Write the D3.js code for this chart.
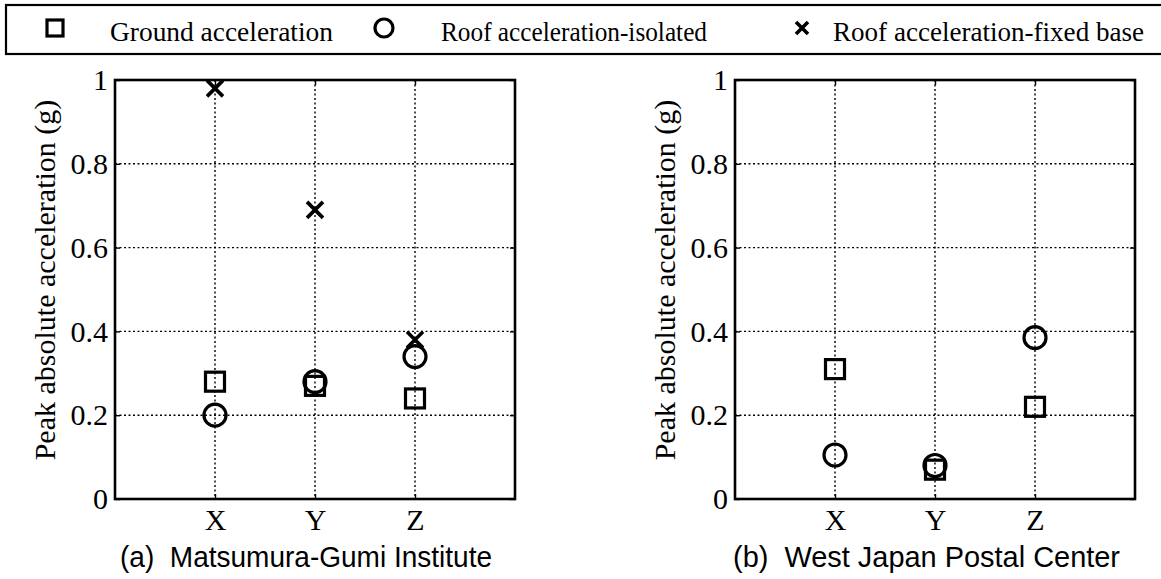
<!DOCTYPE html>
<html>
<head>
<meta charset="utf-8">
<script src="https://cdn.jsdelivr.net/npm/d3@7"></script>
<style>
  html, body { margin: 0; padding: 0; background: #fff; }
  svg { display: block; }
</style>
</head>
<body>
<svg id="chart" width="1161" height="579"></svg>
<script>
// Peak absolute accelerations (g) per direction
const categories = ["X", "Y", "Z"];
const yTicks = [0, 0.2, 0.4, 0.6, 0.8, 1];
const yTickLabels = ["0", "0.2", "0.4", "0.6", "0.8", "1"];

const matsumuraGround = [0.28, 0.27, 0.24];
const matsumuraIsolated = [0.20, 0.28, 0.34];
const matsumuraFixed = [0.98, 0.69, 0.38];

const postalGround = [0.31, 0.07, 0.22];
const postalIsolated = [0.105, 0.08, 0.385];

const legendLabels = ["Ground acceleration", "Roof acceleration-isolated", "Roof acceleration-fixed base"];
const panelTitles = ["(a)\u00a0\u00a0Matsumura-Gumi Institute", "(b)\u00a0\u00a0West Japan Postal Center"];
const yAxisTitle = "Peak absolute acceleration (g)";

const svg = d3.select("#chart");
const serif = "Liberation Serif, Times New Roman, serif";
const sans = "Liberation Sans, Arial, sans-serif";

// marker painters
function square(g, cx, cy, s) {
  g.append("rect").attr("x", cx - s / 2).attr("y", cy - s / 2)
    .attr("width", s).attr("height", s)
    .attr("fill", "none").attr("stroke", "#000").attr("stroke-width", 3.2);
}
function circle(g, cx, cy, r) {
  g.append("circle").attr("cx", cx).attr("cy", cy).attr("r", r)
    .attr("fill", "none").attr("stroke", "#000").attr("stroke-width", 3.2);
}
function cross(g, cx, cy, a) {
  g.append("path")
    .attr("d", `M${cx - a},${cy - a}L${cx + a},${cy + a}M${cx - a},${cy + a}L${cx + a},${cy - a}`)
    .attr("stroke", "#000").attr("stroke-width", 3.6).attr("fill", "none");
}

// legend
const legend = svg.append("g");
legend.append("rect").attr("x", 6).attr("y", 5).attr("width", 1170).attr("height", 49)
  .attr("fill", "none").attr("stroke", "#000").attr("stroke-width", 2.2);
const legendItems = [
  { mark: (g, x, y) => square(g, x, y, 16), mx: 55, tx: 110, w: 223 },
  { mark: (g, x, y) => circle(g, x, y, 9), mx: 384, tx: 441, w: 266 },
  { mark: (g, x, y) => cross(g, x, y, 6), mx: 802, tx: 833, w: 311 }
];
legendItems.forEach((it, i) => {
  it.mark(legend, it.mx, 28);
  legend.append("text").attr("x", it.tx).attr("y", 41)
    .style("font-family", serif).style("font-size", "27px")
    .attr("textLength", it.w).attr("lengthAdjust", "spacingAndGlyphs")
    .text(legendLabels[i]);
});

function panel(left, series, title, capX, capW) {
  const top = 80, bottom = 499, width = 400;
  const x = d3.scaleLinear().domain([0, 4]).range([left, left + width]);
  const y = d3.scaleLinear().domain([0, 1]).range([bottom, top]);
  const g = svg.append("g");

  // dotted grid
  const gx = [1, 2, 3];
  g.selectAll(".vg").data(gx).join("line")
    .attr("x1", d => x(d)).attr("x2", d => x(d)).attr("y1", top).attr("y2", bottom)
    .attr("stroke", "#000").attr("stroke-width", 1.4).attr("stroke-dasharray", "2,2.5");
  g.selectAll(".hg").data(yTicks.slice(1, -1)).join("line")
    .attr("x1", left).attr("x2", left + width).attr("y1", d => y(d)).attr("y2", d => y(d))
    .attr("stroke", "#000").attr("stroke-width", 1.4).attr("stroke-dasharray", "2,2.5");

  // axes
  const yAxis = d3.axisLeft(y).tickValues(yTicks).tickFormat((d, i) => yTickLabels[i]).tickSizeInner(-5).tickSizeOuter(0).tickPadding(7);
  const ya = g.append("g").attr("transform", `translate(${left},0)`).call(yAxis);
  const yaR = g.append("g").attr("transform", `translate(${left + width},0)`)
    .call(d3.axisRight(y).tickValues(yTicks).tickFormat("").tickSizeInner(-5).tickSizeOuter(0));
  const xAxis = d3.axisBottom(x).tickValues(gx).tickFormat((d, i) => categories[i]).tickSizeInner(-5).tickSizeOuter(0).tickPadding(10);
  const xa = g.append("g").attr("transform", `translate(0,${bottom})`).call(xAxis);
  const xaT = g.append("g").attr("transform", `translate(0,${top})`)
    .call(d3.axisTop(x).tickValues(gx).tickFormat("").tickSizeInner(-5).tickSizeOuter(0));
  [ya, yaR, xa, xaT].forEach(a => {
    a.attr("font-family", null).attr("font-size", null);
    a.select(".domain").remove();
    a.selectAll(".tick line").attr("stroke", "#000").attr("stroke-width", 1.4);
    a.selectAll("text").style("font-family", serif).style("font-size", "30px").attr("fill", "#000");
  });

  // frame
  g.append("rect").attr("x", left).attr("y", top).attr("width", width).attr("height", bottom - top)
    .attr("fill", "none").attr("stroke", "#000").attr("stroke-width", 2.6);

  // y title
  g.append("text")
    .attr("transform", `translate(${left - 60},280) rotate(-90)`)
    .attr("text-anchor", "middle")
    .style("font-family", serif).style("font-size", "30px")
    .text(yAxisTitle);

  // panel caption
  g.append("text").attr("x", capX).attr("y", 567)
    .style("font-family", sans).style("font-size", "30px")
    .attr("textLength", capW).attr("lengthAdjust", "spacingAndGlyphs")
    .text(title);

  // data markers
  const m = g.append("g");
  if (series.isolated) series.isolated.forEach((v, i) => circle(m, x(i + 1), y(v), 11));
  if (series.ground) series.ground.forEach((v, i) => square(m, x(i + 1), y(v), 19));
  if (series.fixed) series.fixed.forEach((v, i) => cross(m, x(i + 1), y(v), 8));
}

panel(115, { ground: matsumuraGround, isolated: matsumuraIsolated, fixed: matsumuraFixed }, panelTitles[0], 120, 372);
panel(735, { ground: postalGround, isolated: postalIsolated }, panelTitles[1], 733, 387);
</script>
</body>
</html>
